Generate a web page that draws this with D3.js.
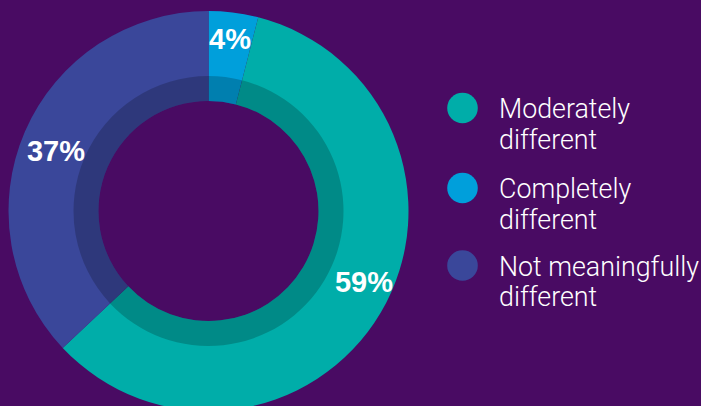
<!DOCTYPE html>
<html>
<head>
<meta charset="utf-8">
<script src="https://cdn.jsdelivr.net/npm/d3@7/dist/d3.min.js"></script>
<style>
  html, body { margin: 0; padding: 0; background: #490b63; }
  svg { display: block; }
</style>
</head>
<body>
<svg id="chart" width="701" height="406"></svg>
<script>
// Share of responses, in drawing order (clockwise from 12 o'clock)
const categories = ["Completely different", "Moderately different", "Not meaningfully different"];
const values = [4, 59, 37];
const colors = ["#009fdb", "#00ada9", "#3a479a"];

// Legend order and line breaks
const legendOrder = ["Moderately different", "Completely different", "Not meaningfully different"];
const legendLines = [["Moderately", "different"], ["Completely", "different"], ["Not meaningfully", "different"]];

const svg = d3.select("#chart");
const cx = 208.5, cy = 211;
const rOuter = 200, rBand = 135, rInner = 110;

const data = categories.map((c, i) => ({ cat: c, value: values[i], color: colors[i] }));
const pie = d3.pie().sort(null).value(d => d.value);
const arcs = pie(data);

const g = svg.append("g").attr("transform", `translate(${cx},${cy})`);

const outerArc = d3.arc().innerRadius(rInner).outerRadius(rOuter);
const bandArc = d3.arc().innerRadius(rInner).outerRadius(rBand);

g.selectAll("path.slice").data(arcs).join("path")
  .attr("class", "slice")
  .attr("d", outerArc)
  .attr("fill", d => d.data.color);

// Darker inner ring
g.selectAll("path.band").data(arcs).join("path")
  .attr("class", "band")
  .attr("d", bandArc)
  .attr("fill", "#000")
  .attr("fill-opacity", 0.2);

// Percentage labels placed along each slice
const labelPos = {
  "Completely different": [230, 49],
  "Moderately different": [364, 292],
  "Not meaningfully different": [56, 161]
};
svg.selectAll("text.pct").data(arcs).join("text")
  .attr("class", "pct")
  .attr("x", d => labelPos[d.data.cat][0])
  .attr("y", d => labelPos[d.data.cat][1])
  .attr("text-anchor", "middle")
  .attr("font-family", "'Liberation Sans', Arial, sans-serif")
  .attr("font-weight", "bold")
  .attr("font-size", 29)
  .attr("fill", "#ffffff")
  .text(d => d.data.value + "%");

// Legend
const legendY = [108, 188, 265.5];
const legend = svg.append("g");
legendOrder.forEach((cat, i) => {
  const item = data.find(d => d.cat === cat);
  const y = legendY[i];
  legend.append("circle")
    .attr("cx", 462.5).attr("cy", y).attr("r", 15.3)
    .attr("fill", item.color);
  const t = legend.append("text")
    .attr("x", 499)
    .attr("y", y + 10)
    .attr("font-family", "Roboto, 'Liberation Sans', sans-serif")
    .attr("font-weight", 300)
    .attr("font-size", 26.8)
    .attr("fill", "#ffffff");
  legendLines[i].forEach((line, j) => {
    t.append("tspan").attr("x", 499).attr("dy", j === 0 ? 0 : 30.8).text(line);
  });
});
</script>
</body>
</html>
